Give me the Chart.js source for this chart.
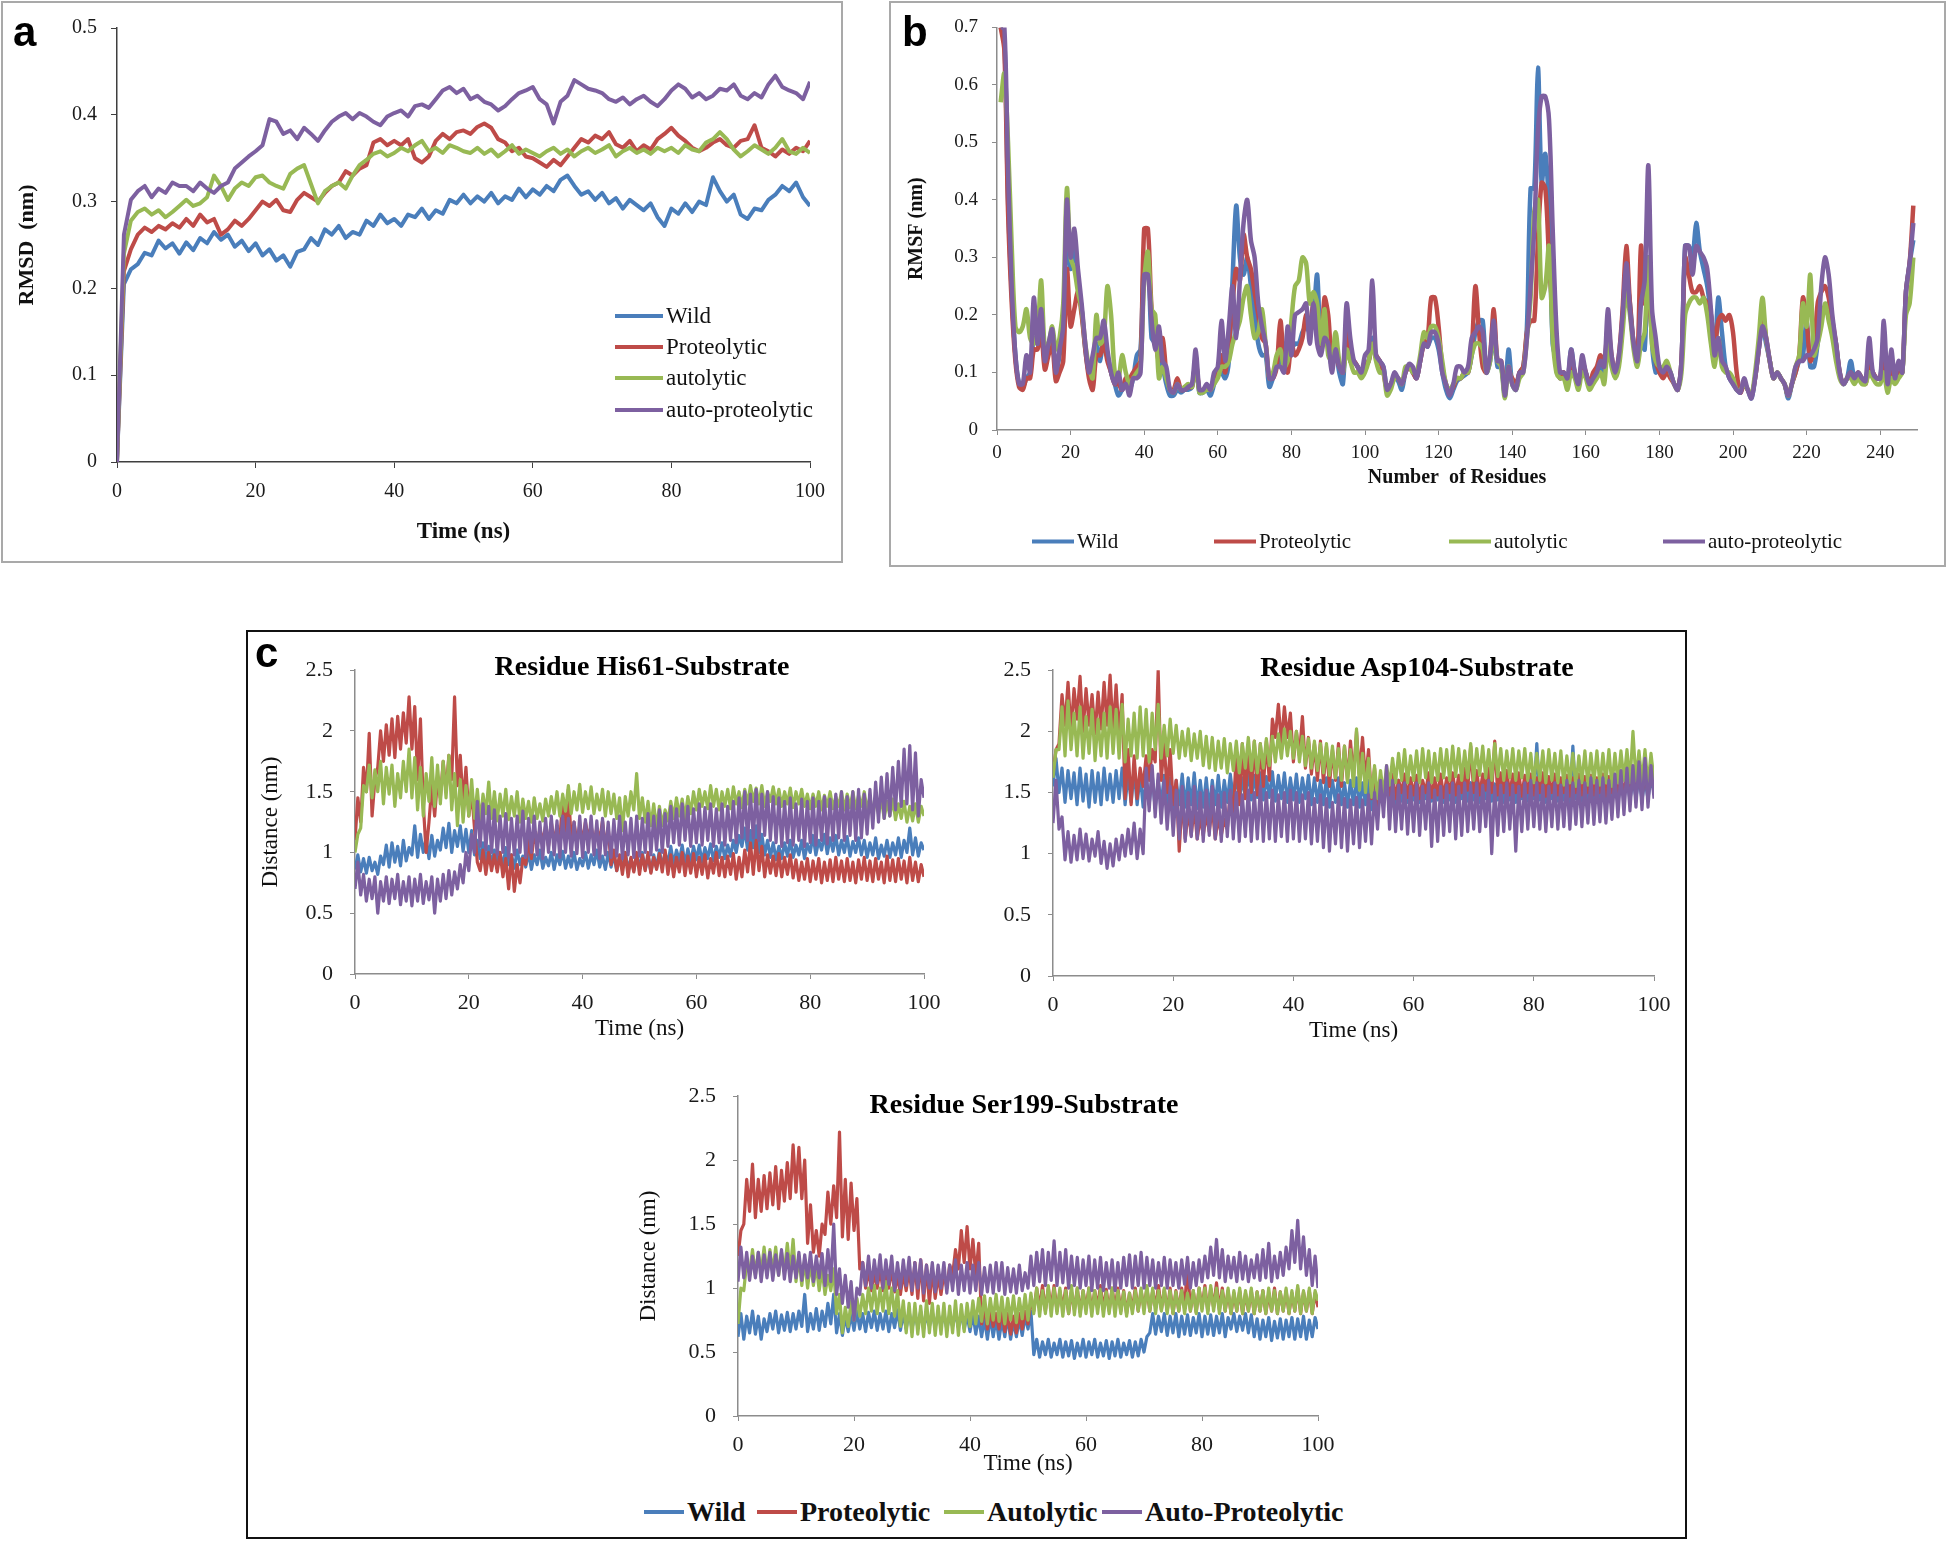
<!DOCTYPE html>
<html>
<head>
<meta charset="utf-8">
<script src="https://cdn.jsdelivr.net/npm/chart.js@4.4.1/dist/chart.umd.min.js"></script>
<style>
  body { margin: 0; width: 1948px; height: 1542px; background: #fff; position: relative; overflow: hidden; font-family: "Liberation Serif", "Times New Roman", serif; color: #111; }
  .frame { position: absolute; box-sizing: border-box; }
  canvas { position: absolute; }
  .letter { position: absolute; font-family: "Liberation Sans", Arial, sans-serif; font-weight: bold; font-size: 42px; line-height: 1; color: #000; }
  .title { position: absolute; transform: translate(-50%, -50%); font-weight: bold; font-size: 28px; white-space: nowrap; line-height: 1; color: #000; }
  .legend-item { position: absolute; transform: translateY(-50%); display: flex; align-items: center; white-space: nowrap; line-height: 1; color: #111; }
  .swatch { display: inline-block; height: 4px; margin-right: 3px; }
</style>
</head>
<body>
<div class="frame" style="left:1px;top:1px;width:842px;height:562px;border:2px solid #a9a9a9"></div>
<div class="frame" style="left:889px;top:1px;width:1057px;height:566px;border:2px solid #a9a9a9"></div>
<div class="frame" style="left:246px;top:630px;width:1441px;height:909px;border:2px solid #111"></div>

<canvas id="rmsdChart" width="838" height="558" style="left:2px;top:2px"></canvas>
<canvas id="rmsfChart" width="1052" height="560" style="left:891px;top:2px"></canvas>
<canvas id="his61Chart" width="714" height="420" style="left:250px;top:640px"></canvas>
<canvas id="asp104Chart" width="704" height="420" style="left:980px;top:640px"></canvas>
<canvas id="ser199Chart" width="728" height="424" style="left:630px;top:1066px"></canvas>

<div class="letter" style="left:13px;top:11px">a</div>
<div class="letter" style="left:902px;top:11px">b</div>
<div class="letter" style="left:255px;top:632px">c</div>

<div class="title" style="left:642px;top:666px">Residue His61-Substrate</div>
<div class="title" style="left:1417px;top:667px">Residue Asp104-Substrate</div>
<div class="title" style="left:1024px;top:1104px">Residue Ser199-Substrate</div>

<div id="legendA"></div>
<div id="legendB"></div>
<div id="legendC"></div>

<script>
// Series names and colours (Excel 2010 palette)
const seriesNames = ["Wild", "Proteolytic", "autolytic", "auto-proteolytic"];
const seriesNamesC = ["Wild", "Proteolytic", "Autolytic", "Auto-Proteolytic"];
const seriesColors = ["#4a7ebb", "#be4b48", "#98b954", "#7d60a0"];

// x grids
const timeA = [...Array(101).keys()];                 // 0..100 ns, 1 ns step
const residues = [...Array(249).keys()].map((i) => i + 1); // residue 1..249
const timeC = [...Array(201).keys()].map((i) => i / 2);    // 0..100 ns, 0.5 ns step

// tick labels
const rmsdTicks = [0, 0.1, 0.2, 0.3, 0.4, 0.5];
const rmsfTicks = [0, 0.1, 0.2, 0.3, 0.4, 0.5, 0.6, 0.7];
const residueTicks = [0, 20, 40, 60, 80, 100, 120, 140, 160, 180, 200, 220, 240];
const timeTicks = [0, 20, 40, 60, 80, 100];
const distTicks = [0, 0.5, 1, 1.5, 2, 2.5];

// Panel a: RMSD (nm) vs time
const rmsdWild = [
  0, .205, .222, .228, .241, .238, .255, .246, .252, .24,
  .253, .244, .258, .252, .265, .256, .262, .248, .255, .243,
  .252, .238, .245, .232, .238, .225, .242, .245, .258, .25,
  .268, .262, .272, .258, .265, .262, .278, .272, .285, .275,
  .28, .272, .285, .282, .292, .28, .29, .286, .302, .298,
  .308, .298, .306, .3, .31, .298, .306, .302, .315, .305,
  .314, .308, .318, .312, .325, .33, .318, .308, .312, .302,
  .31, .298, .304, .292, .302, .296, .29, .298, .282, .272,
  .292, .286, .298, .288, .3, .296, .328, .312, .3, .308,
  .285, .28, .292, .29, .302, .308, .318, .312, .322, .305,
  .295];
const rmsdProteolytic = [
  0, .22, .245, .262, .27, .265, .272, .268, .275, .27,
  .28, .272, .285, .276, .28, .262, .268, .278, .272, .28,
  .29, .3, .295, .302, .29, .288, .302, .31, .305, .3,
  .31, .318, .322, .335, .33, .338, .342, .368, .372, .365,
  .37, .365, .372, .35, .345, .352, .37, .378, .372, .38,
  .382, .378, .386, .39, .385, .372, .368, .358, .362, .352,
  .35, .345, .34, .348, .342, .352, .362, .372, .368, .376,
  .372, .38, .366, .362, .37, .358, .365, .36, .372, .378,
  .385, .376, .37, .362, .358, .362, .368, .372, .365, .362,
  .37, .372, .388, .362, .358, .352, .36, .355, .362, .358,
  .37];
const rmsdAutolytic = [
  0, .24, .278, .288, .292, .285, .29, .282, .288, .295,
  .302, .295, .298, .305, .33, .318, .302, .315, .322, .318,
  .328, .33, .322, .318, .315, .332, .338, .342, .32, .298,
  .312, .318, .322, .315, .33, .342, .348, .355, .358, .352,
  .356, .362, .358, .365, .37, .358, .362, .356, .365, .362,
  .358, .356, .362, .355, .36, .352, .358, .365, .355, .36,
  .356, .352, .358, .362, .355, .36, .352, .358, .362, .356,
  .36, .365, .352, .358, .362, .356, .36, .355, .362, .358,
  .362, .356, .365, .36, .358, .368, .372, .38, .372, .36,
  .352, .358, .365, .36, .355, .362, .372, .358, .355, .362,
  .356];
const rmsdAutoProteolytic = [
  0, .262, .302, .312, .318, .305, .315, .31, .322, .318,
  .318, .312, .322, .315, .31, .318, .322, .338, .345, .352,
  .358, .365, .395, .392, .378, .382, .372, .385, .378, .37,
  .382, .392, .398, .402, .395, .402, .398, .392, .388, .398,
  .402, .405, .398, .41, .412, .408, .418, .428, .432, .425,
  .43, .418, .422, .415, .412, .405, .41, .418, .425, .428,
  .432, .418, .412, .39, .415, .422, .44, .435, .43, .428,
  .425, .418, .415, .42, .412, .418, .422, .415, .41, .418,
  .428, .435, .43, .42, .425, .418, .422, .43, .428, .435,
  .422, .418, .425, .42, .435, .445, .432, .428, .425, .418,
  .438];

// Panel b: RMSF (nm) per residue
const rmsfWild = [
  .70, .68, .40, .24, .13, .08, .075, .09, .10, .16,
  .15, .19, .12, .15, .16, .10, .13, .17, .35, .28,
  .32, .26, .21, .14, .10, .11, .15, .12, .16, .13,
  .10, .08, .06, .07, .08, .07, .09, .13, .14, .30,
  .30, .16, .15, .13, .11, .08, .06, .06, .07, .065,
  .07, .07, .075, .12, .065, .065, .07, .06, .08, .10,
  .10, .09, .12, .26, .39, .30, .27, .30, .25, .20,
  .15, .13, .13, .075, .09, .11, .12, .15, .12, .14,
  .15, .15, .17, .18, .17, .20, .27, .14, .20, .15,
  .11, .14, .10, .08, .19, .12, .12, .11, .10, .11,
  .12, .16, .13, .12, .11, .07, .08, .09, .085, .07,
  .10, .11, .10, .09, .12, .15, .145, .16, .16, .14,
  .10, .07, .055, .07, .085, .09, .095, .10, .13, .17,
  .19, .19, .10, .12, .17, .11, .11, .06, .14, .08,
  .07, .10, .11, .18, .42, .42, .63, .43, .48, .38,
  .15, .12, .09, .10, .08, .14, .10, .08, .11, .10,
  .08, .09, .10, .11, .10, .18, .12, .10, .12, .19,
  .26, .22, .15, .12, .16, .14, .30, .15, .10, .11,
  .10, .11, .10, .08, .07, .12, .32, .32, .30, .36,
  .31, .28, .25, .20, .13, .23, .17, .11, .09, .08,
  .07, .065, .08, .07, .055, .09, .14, .18, .15, .12,
  .09, .10, .09, .08, .055, .08, .10, .12, .13, .19,
  .11, .11, .15, .20, .21, .22, .18, .15, .10, .08,
  .09, .12, .09, .10, .09, .085, .12, .10, .09, .09,
  .16, .08, .12, .09, .10, .10, .24, .29, .33];
const rmsfProteolytic = [
  .70, .66, .38, .22, .12, .075, .07, .09, .09, .14,
  .14, .17, .105, .13, .15, .085, .10, .12, .28, .18,
  .21, .24, .20, .14, .09, .07, .13, .13, .15, .12,
  .10, .08, .08, .07, .09, .09, .10, .11, .12, .35,
  .35, .21, .16, .12, .16, .10, .07, .07, .09, .07,
  .07, .075, .075, .12, .07, .07, .075, .07, .09, .10,
  .13, .10, .15, .22, .28, .26, .34, .30, .28, .24,
  .20, .16, .15, .09, .09, .11, .19, .12, .10, .15,
  .13, .14, .16, .20, .18, .22, .17, .14, .23, .20,
  .12, .13, .11, .10, .17, .12, .12, .11, .10, .11,
  .12, .15, .13, .12, .10, .07, .08, .09, .09, .08,
  .10, .11, .10, .09, .12, .15, .16, .23, .23, .18,
  .11, .08, .065, .075, .09, .09, .10, .10, .14, .25,
  .17, .11, .10, .13, .21, .12, .12, .07, .10, .09,
  .08, .10, .11, .17, .19, .19, .33, .43, .42, .30,
  .20, .12, .09, .10, .08, .12, .10, .08, .12, .10,
  .08, .10, .11, .13, .11, .18, .13, .10, .13, .21,
  .32, .22, .15, .12, .32, .22, .25, .16, .12, .10,
  .09, .10, .09, .08, .07, .12, .30, .27, .24, .24,
  .25, .23, .22, .20, .14, .19, .20, .19, .20, .17,
  .10, .065, .08, .07, .06, .09, .14, .20, .16, .12,
  .09, .10, .09, .08, .06, .08, .10, .13, .23, .19,
  .12, .14, .22, .24, .25, .23, .19, .15, .10, .08,
  .09, .10, .09, .10, .09, .08, .11, .10, .09, .09,
  .14, .08, .11, .09, .10, .10, .24, .29, .39];
const rmsfAutolytic = [
  .57, .62, .50, .32, .18, .17, .18, .21, .16, .15,
  .17, .26, .14, .15, .18, .14, .16, .22, .42, .30,
  .28, .24, .21, .15, .11, .09, .20, .15, .16, .25,
  .20, .10, .09, .13, .10, .08, .09, .10, .11, .26,
  .31, .21, .20, .09, .11, .09, .07, .065, .08, .07,
  .075, .08, .075, .12, .065, .065, .07, .07, .08, .09,
  .11, .11, .12, .15, .17, .19, .23, .25, .20, .16,
  .17, .21, .15, .09, .10, .13, .14, .11, .12, .19,
  .25, .26, .30, .29, .22, .24, .22, .15, .21, .13,
  .12, .17, .12, .10, .14, .12, .10, .10, .09, .10,
  .12, .15, .12, .10, .10, .06, .07, .09, .09, .08,
  .11, .11, .10, .10, .13, .17, .16, .18, .18, .16,
  .12, .08, .07, .08, .09, .09, .10, .10, .13, .15,
  .15, .14, .10, .12, .17, .12, .11, .055, .11, .08,
  .07, .09, .10, .16, .23, .38, .40, .23, .25, .32,
  .16, .10, .09, .09, .07, .10, .09, .07, .10, .09,
  .07, .08, .09, .10, .08, .15, .11, .09, .11, .17,
  .24, .20, .14, .11, .15, .17, .30, .15, .12, .11,
  .11, .12, .10, .08, .07, .10, .20, .22, .23, .23,
  .22, .23, .20, .15, .11, .16, .11, .10, .10, .09,
  .07, .07, .08, .07, .06, .10, .16, .23, .16, .12,
  .09, .10, .09, .08, .06, .08, .11, .13, .22, .18,
  .27, .13, .15, .18, .22, .19, .16, .12, .09, .08,
  .09, .09, .08, .09, .08, .08, .10, .09, .08, .08,
  .10, .065, .09, .08, .09, .10, .20, .22, .30];
const rmsfAutoProteolytic = [
  .70, .70, .45, .25, .13, .08, .08, .13, .10, .23,
  .15, .21, .12, .15, .175, .10, .14, .18, .40, .30,
  .35, .28, .22, .15, .10, .13, .16, .16, .19, .14,
  .10, .08, .10, .07, .08, .06, .09, .09, .10, .27,
  .27, .19, .14, .18, .12, .11, .07, .065, .08, .07,
  .07, .075, .08, .14, .07, .07, .08, .07, .10, .11,
  .19, .12, .18, .25, .16, .26, .36, .40, .33, .30,
  .22, .18, .15, .09, .09, .11, .11, .10, .18, .13,
  .20, .205, .21, .22, .15, .22, .15, .13, .16, .15,
  .10, .14, .11, .10, .22, .16, .12, .11, .10, .13,
  .14, .26, .13, .12, .11, .07, .08, .10, .09, .08,
  .10, .115, .11, .09, .12, .15, .145, .17, .17, .15,
  .10, .08, .06, .08, .11, .11, .10, .11, .16, .17,
  .18, .17, .10, .13, .19, .12, .12, .06, .11, .08,
  .07, .10, .10, .16, .25, .35, .52, .58, .58, .54,
  .35, .18, .10, .10, .09, .14, .10, .08, .13, .10,
  .08, .09, .10, .12, .11, .21, .13, .10, .13, .20,
  .29, .21, .15, .12, .22, .26, .46, .21, .16, .11,
  .10, .11, .10, .08, .07, .12, .32, .32, .27, .32,
  .31, .30, .28, .21, .13, .16, .12, .11, .09, .08,
  .07, .065, .09, .07, .055, .09, .14, .18, .16, .12,
  .09, .10, .09, .08, .06, .08, .11, .12, .12, .13,
  .13, .14, .16, .25, .30, .27, .20, .15, .10, .08,
  .09, .10, .09, .10, .09, .085, .16, .10, .09, .09,
  .19, .08, .14, .09, .12, .10, .24, .29, .36];

// Panel c: distance (nm), residue His61 - substrate
const his61Wild = [
  .86, .98, .84, .95, .83, .96, .85, .92, .82, .97,
  .9, 1.06, .88, 1.08, .92, 1.05, .89, 1.1, .93, 1.04,
  .98, 1.22, .96, 1.15, 1.0, 1.12, .95, 1.14, .97, 1.1,
  1.02, 1.2, 1.04, 1.24, 1.0, 1.18, 1.05, 1.22, 1.01, 1.19,
  1.0, 1.18, .98, 1.1, .95, 1.08, .92, 1.05, .9, 1.02,
  .92, 1.0, .88, 1.04, .9, .98, .87, 1.02, .9, .97,
  .88, 1.0, .86, .98, .9, 1.02, .87, .96, .89, 1.0,
  .86, .98, .9, 1.01, .87, .97, .88, 1.0, .86, .95,
  .89, 1.0, .87, .98, .9, 1.02, .88, .97, .86, 1.0,
  .88, .98, .85, .96, .87, 1.0, .86, .95, .85, .98,
  .87, 1.0, .86, .97, .84, .98, .87, 1.02, .88, .99,
  .92, 1.05, .9, 1.02, .93, 1.06, .9, 1.03, .92, 1.05,
  .94, 1.06, .92, 1.04, .95, 1.07, .93, 1.05, .96, 1.08,
  .95, 1.06, .97, 1.1, 1.0, 1.14, 1.05, 1.2, 1.02, 1.18,
  1.04, 1.22, 1.0, 1.15, .98, 1.1, .96, 1.08, .94, 1.05,
  .95, 1.08, .97, 1.1, .96, 1.06, .98, 1.1, .95, 1.07,
  1.0, 1.14, .98, 1.1, 1.02, 1.15, .99, 1.12, 1.01, 1.14,
  .98, 1.1, 1.0, 1.13, .97, 1.09, 1.0, 1.12, .98, 1.1,
  .96, 1.08, .98, 1.12, .95, 1.06, .97, 1.1, .96, 1.08,
  .98, 1.12, .96, 1.1, 1.0, 1.2, .98, 1.12, .97, 1.08,
  1.02];
const his61Proteolytic = [
  1.1, 1.45, 1.25, 1.7, 1.5, 1.98, 1.3, 1.6, 1.7, 2.0,
  1.75, 2.05, 1.8, 2.1, 1.78, 2.12, 1.85, 2.15, 1.9, 2.28,
  1.85, 2.2, 1.6, 2.1, 1.4, 1.0, 1.25, 1.55, 1.3, 1.6,
  1.45, 1.75, 1.5, 1.8, 1.6, 2.28, 1.55, 1.8, 1.4, 1.7,
  1.3, 1.5, 1.2, .92, .85, 1.02, .82, 1.0, .85, .98,
  .84, 1.0, .8, .95, .7, .98, .68, .9, .75, .95,
  .9, 1.1, .95, 1.15, 1.05, 1.2, 1.08, 1.22, 1.05, 1.25,
  1.08, 1.22, 1.1, 1.45, 1.12, 1.52, 1.1, 1.25, 1.08, 1.22,
  1.1, 1.25, 1.12, 1.22, 1.08, 1.2, 1.1, 1.26, 1.05, 1.2,
  .9, 1.02, .85, .98, .82, 1.0, .8, .96, .84, 1.0,
  .82, .98, .85, 1.0, .83, .96, .86, .99, .84, 1.02,
  .82, .98, .8, .96, .84, 1.0, .81, .97, .83, .99,
  .8, .96, .82, .98, .79, .95, .83, 1.0, .81, .96,
  .8, .97, .82, .99, .78, .96, .8, 1.02, .84, 1.08,
  .82, 1.1, .85, 1.05, .8, .98, .83, .97, .81, .99,
  .8, .96, .82, .98, .79, .94, .77, .92, .78, .95,
  .76, .93, .78, .95, .75, .92, .77, .94, .76, .96,
  .78, .93, .76, .95, .77, .92, .75, .94, .78, .96,
  .77, .93, .76, .95, .78, .92, .75, .97, .77, .94,
  .76, .95, .78, .93, .75, .96, .77, .92, .76, .9,
  .8];
const his61Autolytic = [
  1.0, 1.15, 1.2, 1.55, 1.5, 1.72, 1.45, 1.68, 1.5, 1.75,
  1.4, 1.7, 1.48, 1.72, 1.38, 1.65, 1.45, 1.75, 1.5, 1.85,
  1.45, 1.78, 1.35, 1.7, 1.3, 1.65, 1.42, 1.78, 1.38, 1.72,
  1.4, 1.75, 1.45, 1.8, 1.35, 1.65, 1.22, 1.6, 1.25, 1.55,
  1.3, 1.6, 1.28, 1.52, 1.25, 1.48, 1.32, 1.58, 1.28, 1.5,
  1.26, 1.48, 1.3, 1.52, 1.27, 1.46, 1.3, 1.5, 1.25, 1.44,
  1.28, 1.42, 1.25, 1.45, 1.28, 1.4, 1.26, 1.44, 1.3, 1.46,
  1.32, 1.5, 1.3, 1.48, 1.34, 1.55, 1.32, 1.5, 1.35, 1.56,
  1.33, 1.5, 1.36, 1.54, 1.32, 1.48, 1.35, 1.52, 1.3, 1.5,
  1.32, 1.48, 1.28, 1.45, 1.18, 1.46, 1.3, 1.5, 1.35, 1.65,
  1.28, 1.45, 1.25, 1.42, 1.22, 1.4, 1.2, 1.38, 1.22, 1.35,
  1.26, 1.42, 1.28, 1.45, 1.3, 1.44, 1.28, 1.46, 1.32, 1.5,
  1.35, 1.52, 1.38, 1.5, 1.36, 1.55, 1.38, 1.52, 1.35, 1.5,
  1.38, 1.52, 1.36, 1.54, 1.4, 1.5, 1.37, 1.52, 1.4, 1.55,
  1.42, 1.53, 1.4, 1.55, 1.38, 1.5, 1.42, 1.54, 1.4, 1.52,
  1.38, 1.5, 1.4, 1.53, 1.37, 1.5, 1.4, 1.52, 1.38, 1.48,
  1.36, 1.48, 1.38, 1.5, 1.35, 1.47, 1.38, 1.5, 1.36, 1.46,
  1.38, 1.5, 1.35, 1.48, 1.37, 1.5, 1.36, 1.47, 1.38, 1.5,
  1.35, 1.46, 1.3, 1.45, 1.32, 1.44, 1.28, 1.42, 1.3, 1.44,
  1.27, 1.4, 1.28, 1.42, 1.25, 1.38, 1.26, 1.4, 1.25, 1.38,
  1.3];
const his61AutoProteolytic = [
  .7, .92, .65, .82, .6, .78, .62, .8, .5, .76,
  .6, .8, .58, .78, .62, .82, .57, .76, .6, .8,
  .56, .78, .6, .82, .58, .76, .61, .8, .5, .78,
  .6, .82, .62, .85, .65, .84, .7, .9, .75, 1.0,
  .85, 1.15, 1.0, 1.42, 1.05, 1.4, 1.02, 1.38, 1.0, 1.35,
  .98, 1.3, 1.0, 1.32, .96, 1.28, .98, 1.3, 1.0, 1.34,
  .96, 1.28, 1.0, 1.3, .98, 1.25, .95, 1.28, 1.0, 1.3,
  .98, 1.26, .96, 1.3, 1.0, 1.28, .97, 1.25, .99, 1.3,
  .96, 1.27, 1.0, 1.3, .98, 1.26, .95, 1.28, .98, 1.25,
  .96, 1.27, .97, 1.3, .95, 1.25, .98, 1.28, .96, 1.3,
  .97, 1.28, 1.0, 1.32, .98, 1.3, 1.02, 1.35, 1.0, 1.32,
  1.05, 1.38, 1.08, 1.36, 1.06, 1.4, 1.1, 1.38, 1.05, 1.36,
  1.08, 1.4, 1.06, 1.37, 1.1, 1.4, 1.05, 1.36, 1.08, 1.4,
  1.06, 1.38, 1.1, 1.42, 1.08, 1.45, 1.12, 1.5, 1.1, 1.48,
  1.12, 1.52, 1.1, 1.48, 1.14, 1.5, 1.1, 1.46, 1.08, 1.45,
  1.05, 1.42, 1.08, 1.45, 1.06, 1.4, 1.1, 1.44, 1.05, 1.42,
  1.08, 1.45, 1.06, 1.42, 1.1, 1.46, 1.07, 1.44, 1.1, 1.48,
  1.12, 1.5, 1.1, 1.46, 1.14, 1.5, 1.1, 1.52, 1.12, 1.48,
  1.15, 1.52, 1.2, 1.58, 1.25, 1.62, 1.28, 1.65, 1.3, 1.7,
  1.35, 1.75, 1.38, 1.85, 1.4, 1.88, 1.35, 1.82, 1.3, 1.6,
  1.45];

// Panel c: residue Asp104 - substrate
const asp104Wild = [
  1.55, 1.78, 1.5, 1.7, 1.42, 1.68, 1.45, 1.66, 1.4, 1.7,
  1.43, 1.65, 1.38, 1.68, 1.42, 1.66, 1.4, 1.7, 1.44, 1.65,
  1.42, 1.68, 1.45, 1.7, 1.4, 1.66, 1.42, 1.68, 1.4, 1.65,
  1.38, 1.62, 1.4, 1.65, 1.37, 1.6, 1.4, 1.64, 1.38, 1.62,
  1.36, 1.6, 1.4, 1.65, 1.38, 1.62, 1.4, 1.66, 1.37, 1.6,
  1.38, 1.62, 1.36, 1.6, 1.4, 1.64, 1.38, 1.6, 1.42, 1.65,
  1.45, 1.65, 1.42, 1.62, 1.46, 1.68, 1.44, 1.64, 1.46, 1.66,
  1.44, 1.63, 1.46, 1.67, 1.43, 1.64, 1.45, 1.66, 1.42, 1.62,
  1.44, 1.65, 1.42, 1.62, 1.45, 1.64, 1.4, 1.62, 1.42, 1.6,
  1.4, 1.62, 1.38, 1.6, 1.42, 1.62, 1.4, 1.58, 1.38, 1.6,
  1.4, 1.62, 1.38, 1.58, 1.4, 1.6, 1.36, 1.56, 1.42, 1.6,
  1.42, 1.6, 1.44, 1.58, 1.4, 1.6, 1.43, 1.58, 1.42, 1.6,
  1.44, 1.6, 1.42, 1.58, 1.45, 1.6, 1.43, 1.57, 1.44, 1.6,
  1.42, 1.58, 1.44, 1.6, 1.42, 1.58, 1.45, 1.6, 1.43, 1.58,
  1.44, 1.6, 1.42, 1.58, 1.45, 1.6, 1.43, 1.57, 1.44, 1.6,
  1.42, 1.58, 1.44, 1.6, 1.42, 1.58, 1.45, 1.6, 1.43, 1.62,
  1.45, 1.9, 1.44, 1.6, 1.42, 1.58, 1.45, 1.6, 1.43, 1.58,
  1.44, 1.6, 1.42, 1.88, 1.45, 1.6, 1.43, 1.58, 1.44, 1.6,
  1.42, 1.58, 1.45, 1.6, 1.43, 1.58, 1.44, 1.6, 1.42, 1.6,
  1.45, 1.62, 1.44, 1.6, 1.46, 1.62, 1.44, 1.6, 1.45, 1.62,
  1.5];
const asp104Proteolytic = [
  1.65, 1.85, 1.9, 2.3, 2.05, 2.4, 2.0, 2.35, 2.1, 2.45,
  2.0, 2.35, 2.05, 2.3, 1.98, 2.32, 2.02, 2.4, 2.05, 2.46,
  2.0, 2.38, 1.95, 2.3, 1.45, 1.85, 1.4, 1.8, 1.45, 1.7,
  1.55, 1.8, 1.6, 1.85, 1.75, 2.5, 1.6, 1.9, 1.5, 1.85,
  1.4, 1.6, 1.02, 1.45, 1.12, 1.35, 1.15, 1.38, 1.12, 1.3,
  1.15, 1.32, 1.18, 1.38, 1.12, 1.3, 1.15, 1.28, 1.2, 1.5,
  1.3, 1.85, 1.4, 1.9, 1.45, 1.88, 1.5, 1.92, 1.48, 1.9,
  1.55, 1.92, 1.6, 2.1, 1.95, 2.22, 1.9, 2.2, 1.95, 2.15,
  1.75, 2.0, 1.8, 2.12, 1.7, 1.95, 1.65, 1.9, 1.6, 1.92,
  1.58, 1.88, 1.55, 1.85, 1.6, 1.9, 1.55, 1.88, 1.6, 1.92,
  1.62, 2.0, 1.65, 1.95, 1.6, 1.85, 1.45, 1.7, 1.38, 1.6,
  1.45, 1.62, 1.48, 1.65, 1.45, 1.6, 1.5, 1.65, 1.46, 1.62,
  1.48, 1.64, 1.45, 1.6, 1.5, 1.66, 1.46, 1.62, 1.48, 1.65,
  1.46, 1.62, 1.5, 1.66, 1.48, 1.64, 1.5, 1.7, 1.52, 1.88,
  1.5, 1.68, 1.48, 1.65, 1.52, 1.7, 1.5, 1.92, 1.48, 1.66,
  1.5, 1.68, 1.48, 1.65, 1.5, 1.66, 1.47, 1.64, 1.5, 1.65,
  1.48, 1.62, 1.5, 1.66, 1.47, 1.63, 1.5, 1.65, 1.48, 1.62,
  1.5, 1.64, 1.47, 1.62, 1.5, 1.65, 1.48, 1.63, 1.5, 1.64,
  1.48, 1.62, 1.5, 1.65, 1.47, 1.63, 1.5, 1.64, 1.48, 1.62,
  1.5, 1.65, 1.48, 1.63, 1.5, 1.66, 1.48, 1.64, 1.5, 1.65,
  1.55];
const asp104Autolytic = [
  1.62, 1.85, 1.85, 2.2, 1.8, 2.25, 1.85, 2.15, 1.8, 2.2,
  1.78, 2.12, 1.82, 2.18, 1.76, 2.1, 1.8, 2.15, 1.78, 2.2,
  1.82, 2.18, 1.78, 2.22, 1.75, 2.1, 1.8, 2.15, 1.78, 2.2,
  1.8, 2.18, 1.75, 2.15, 1.85, 2.22, 1.78, 2.05, 1.8, 2.1,
  1.82, 2.05, 1.78, 2.0, 1.8, 2.02, 1.76, 1.98, 1.78, 2.0,
  1.72, 1.96, 1.7, 1.95, 1.68, 1.92, 1.7, 1.94, 1.66, 1.9,
  1.68, 1.92, 1.66, 1.9, 1.7, 1.95, 1.68, 1.92, 1.66, 1.9,
  1.7, 1.94, 1.72, 1.96, 1.75, 1.98, 1.78, 2.02, 1.8, 2.0,
  1.78, 2.0, 1.75, 1.96, 1.72, 1.94, 1.7, 1.92, 1.68, 1.9,
  1.66, 1.9, 1.64, 1.88, 1.62, 1.86, 1.6, 1.88, 1.58, 1.85,
  1.55, 2.02, 1.52, 1.82, 1.5, 1.78, 1.46, 1.72, 1.45, 1.68,
  1.48, 1.72, 1.56, 1.78, 1.58, 1.82, 1.6, 1.85, 1.58, 1.8,
  1.6, 1.84, 1.58, 1.86, 1.62, 1.84, 1.58, 1.82, 1.6, 1.86,
  1.62, 1.85, 1.6, 1.88, 1.63, 1.86, 1.6, 1.84, 1.62, 1.9,
  1.6, 1.86, 1.64, 1.88, 1.62, 1.85, 1.6, 1.9, 1.63, 1.86,
  1.6, 1.84, 1.62, 1.86, 1.6, 1.84, 1.62, 1.86, 1.6, 1.82,
  1.58, 1.82, 1.6, 1.84, 1.58, 1.85, 1.6, 1.82, 1.58, 1.84,
  1.56, 1.8, 1.58, 1.82, 1.55, 1.8, 1.58, 1.84, 1.56, 1.82,
  1.58, 1.84, 1.56, 1.82, 1.58, 1.85, 1.55, 1.82, 1.58, 1.84,
  1.6, 1.85, 1.58, 2.0, 1.6, 1.84, 1.58, 1.85, 1.56, 1.82,
  1.6];
const asp104AutoProteolytic = [
  1.25, 1.6, 1.2, 1.3, .95, 1.18, .93, 1.15, .95, 1.2,
  .96, 1.16, .94, 1.12, .98, 1.18, .92, 1.1, .88, 1.08,
  .9, 1.12, .95, 1.15, .98, 1.2, 1.0, 1.25, .96, 1.2,
  1.0, 1.7, 1.35, 1.72, 1.3, 1.65, 1.25, 1.6, 1.2, 1.55,
  1.15, 1.52, 1.12, 1.55, 1.1, 1.5, 1.14, 1.55, 1.12, 1.5,
  1.1, 1.52, 1.15, 1.55, 1.12, 1.48, 1.1, 1.5, 1.14, 1.52,
  1.12, 1.5, 1.1, 1.48, 1.14, 1.52, 1.1, 1.5, 1.12, 1.55,
  1.1, 1.5, 1.12, 1.52, 1.1, 1.48, 1.14, 1.5, 1.1, 1.52,
  1.12, 1.5, 1.1, 1.48, 1.12, 1.5, 1.08, 1.45, 1.1, 1.48,
  1.05, 1.45, 1.02, 1.42, 1.08, 1.48, 1.05, 1.45, 1.02, 1.44,
  1.08, 1.46, 1.05, 1.44, 1.1, 1.48, 1.08, 1.5, 1.2, 1.6,
  1.3, 1.72, 1.2, 1.6, 1.18, 1.56, 1.2, 1.58, 1.16, 1.55,
  1.18, 1.58, 1.15, 1.55, 1.2, 1.58, 1.06, 1.52, 1.1, 1.55,
  1.15, 1.56, 1.18, 1.58, 1.12, 1.55, 1.15, 1.58, 1.18, 1.56,
  1.2, 1.58, 1.18, 1.56, 1.22, 1.6, 1.0, 1.55, 1.15, 1.56,
  1.18, 1.58, 1.2, 1.56, 1.02, 1.55, 1.18, 1.58, 1.2, 1.6,
  1.22, 1.58, 1.2, 1.56, 1.18, 1.55, 1.22, 1.58, 1.2, 1.56,
  1.22, 1.6, 1.2, 1.58, 1.24, 1.6, 1.22, 1.58, 1.25, 1.62,
  1.24, 1.6, 1.26, 1.62, 1.25, 1.6, 1.28, 1.65, 1.3, 1.68,
  1.32, 1.7, 1.35, 1.72, 1.38, 1.75, 1.36, 1.78, 1.38, 1.72,
  1.45];

// Panel c: residue Ser199 - substrate
const ser199Wild = [
  .62, .8, .6, .78, .65, .82, .64, .78, .6, .76,
  .66, .8, .68, .82, .65, .79, .67, .81, .66, .8,
  .68, .82, .7, .95, .66, .8, .68, .84, .67, .82,
  .7, .88, .72, .95, .65, .8, .63, .78, .66, .8,
  .67, .82, .68, .8, .66, .81, .69, .82, .67, .8,
  .68, .82, .66, .8, .69, .83, .67, .8, .68, .82,
  .68, .8, .7, .82, .68, .79, .7, .81, .69, .8,
  .7, .8, .68, .79, .7, .81, .69, .8, .68, .79,
  .66, .8, .64, .78, .62, .76, .6, .78, .62, .76,
  .6, .75, .62, .78, .6, .74, .62, .76, .63, .78,
  .68, .82, .48, .6, .46, .58, .48, .6, .46, .57,
  .48, .6, .46, .58, .47, .59, .45, .57, .47, .6,
  .46, .58, .48, .6, .46, .57, .47, .59, .45, .58,
  .47, .6, .46, .57, .48, .59, .46, .58, .47, .6,
  .5, .62, .65, .8, .64, .78, .66, .8, .63, .78,
  .65, .8, .62, .78, .64, .79, .63, .77, .65, .8,
  .62, .78, .64, .79, .63, .78, .65, .8, .62, .77,
  .68, .8, .66, .78, .67, .8, .65, .79, .62, .76,
  .6, .75, .62, .77, .59, .74, .61, .76, .6, .75,
  .62, .77, .6, .76, .62, .78, .6, .75, .62, .77,
  .68];
const ser199Proteolytic = [
  1.25, 1.45, 1.5, 1.85, 1.6, 1.97, 1.55, 1.85, 1.6, 1.88,
  1.62, 1.9, 1.65, 1.95, 1.62, 1.92, 1.68, 1.98, 1.7, 2.12,
  1.75, 2.1, 1.7, 2.0, 1.35, 1.65, 1.28, 1.45, 1.25, 1.5,
  1.42, 1.75, 1.5, 1.8, 1.55, 2.22, 1.4, 1.85, 1.38, 1.82,
  1.45, 1.7, 1.15, 1.2, 1.0, 1.15, .98, 1.12, 1.0, 1.15,
  .98, 1.12, 1.0, 1.15, .97, 1.1, .95, 1.12, .98, 1.15,
  .95, 1.2, .92, 1.22, .9, 1.18, .88, 1.15, .92, 1.1,
  .95, 1.12, 1.0, 1.18, 1.1, 1.3, 1.15, 1.45, 1.2, 1.48,
  1.15, 1.38, 1.1, 1.35, .72, .85, .68, .82, .7, .8,
  .68, .82, .66, .8, .64, .78, .65, .8, .68, .82,
  .72, .9, .82, 1.0, .84, 1.02, .82, 1.0, .85, 1.02,
  .82, .98, .84, 1.0, .8, .97, .83, 1.0, .81, .98,
  .84, 1.0, .82, .98, .85, 1.02, .83, .99, .82, 1.0,
  .84, 1.0, .82, .98, .8, .96, .83, 1.0, .82, .98,
  .84, 1.0, .82, .98, .85, 1.02, .83, .99, .82, 1.0,
  .8, .98, .82, 1.0, .84, 1.2, .82, .98, .81, 1.0,
  .84, 1.02, .82, 1.0, .85, 1.04, .83, 1.0, .82, .98,
  .8, .96, .82, .98, .8, .96, .82, .98, .8, .97,
  .82, .98, .8, .96, .82, 1.0, .8, .97, .82, .98,
  .8, .96, .82, 1.0, .8, .97, .82, .98, .8, .96,
  .85];
const ser199Autolytic = [
  .72, 1.0, .98, 1.2, 1.12, 1.3, 1.1, 1.28, 1.12, 1.32,
  1.1, 1.3, 1.12, 1.32, 1.1, 1.28, 1.13, 1.35, 1.12, 1.38,
  1.05, 1.25, 1.02, 1.22, 1.0, 1.2, 1.02, 1.18, .98, 1.15,
  .95, 1.1, .98, 1.15, .8, .95, .65, .85, .7, .9,
  .75, .92, .78, .95, .8, 1.0, .82, 1.02, .8, 1.0,
  .82, 1.05, .8, 1.0, .78, .98, .7, .9, .65, .88,
  .62, .88, .64, .86, .62, .9, .65, .88, .63, .86,
  .64, .88, .62, .86, .65, .9, .63, .87, .66, .88,
  .7, .9, .72, .92, .74, .94, .72, .92, .75, .95,
  .74, .93, .72, .92, .75, .94, .73, .92, .76, .95,
  .75, .96, .8, 1.0, .78, .98, .8, 1.02, .78, 1.0,
  .8, 1.0, .78, .98, .8, 1.02, .79, 1.0, .78, .98,
  .8, 1.0, .78, .98, .8, .99, .78, .97, .8, 1.0,
  .78, .98, .8, .97, .78, .96, .8, .98, .82, 1.0,
  .8, 1.02, .82, 1.0, .8, .98, .82, 1.0, .8, .98,
  .8, .97, .82, .98, .8, .96, .82, .98, .8, 1.0,
  .82, 1.0, .8, 1.02, .82, 1.0, .8, .98, .82, 1.0,
  .8, .98, .82, 1.0, .8, .98, .82, 1.0, .8, .97,
  .82, .98, .8, 1.0, .82, .98, .8, .97, .82, 1.0,
  .8, .98, .82, 1.02, .8, .98, .82, 1.0, .8, .98,
  .9];
const ser199AutoProteolytic = [
  1.05, 1.32, 1.08, 1.28, 1.06, 1.25, 1.08, 1.28, 1.05, 1.26,
  1.08, 1.28, 1.06, 1.26, 1.1, 1.3, 1.07, 1.27, 1.05, 1.25,
  1.08, 1.28, 1.06, 1.26, 1.08, 1.28, 1.05, 1.25, 1.08, 1.27,
  1.02, 1.3, 1.05, 1.5, .95, 1.15, .88, 1.1, .85, 1.05,
  .75, 1.0, .95, 1.2, 1.02, 1.25, 1.0, 1.22, 1.04, 1.26,
  1.0, 1.22, 1.03, 1.25, .98, 1.2, 1.0, 1.22, 1.02, 1.24,
  .98, 1.2, 1.0, 1.22, .96, 1.18, 1.0, 1.2, .97, 1.18,
  1.0, 1.2, .96, 1.18, .98, 1.22, .95, 1.18, .98, 1.2,
  .96, 1.18, .98, 1.2, .95, 1.16, .97, 1.18, .96, 1.2,
  .98, 1.2, .95, 1.16, .97, 1.15, .96, 1.18, .98, 1.12,
  1.0, 1.25, 1.02, 1.28, 1.05, 1.3, 1.02, 1.28, 1.06, 1.37,
  1.02, 1.28, 1.04, 1.3, 1.0, 1.25, 1.02, 1.24, 1.0, 1.22,
  1.02, 1.25, .98, 1.22, 1.0, 1.24, .98, 1.2, 1.0, 1.22,
  .98, 1.2, 1.0, 1.24, 1.02, 1.26, 1.0, 1.25, 1.02, 1.28,
  1.0, 1.24, 1.02, 1.22, 1.0, 1.2, 1.02, 1.24, 1.0, 1.22,
  1.02, 1.2, 1.0, 1.22, 1.03, 1.24, 1.0, 1.2, 1.02, 1.22,
  1.05, 1.25, 1.08, 1.32, 1.1, 1.38, 1.08, 1.3, 1.05, 1.25,
  1.08, 1.24, 1.05, 1.28, 1.07, 1.25, 1.05, 1.22, 1.08, 1.26,
  1.06, 1.3, 1.08, 1.35, 1.05, 1.25, 1.08, 1.28, 1.1, 1.32,
  1.15, 1.45, 1.2, 1.53, 1.15, 1.4, 1.1, 1.3, 1.02, 1.25,
  1.0];

const SERIF = "'Liberation Serif', 'Times New Roman', serif";

// Initialize on page load
document.addEventListener("DOMContentLoaded", () => {
  initRmsdChart();
  initRmsfChart();
  initDistanceCharts();
  buildLegends();
});

// Turn one value list per series into Chart.js line datasets
function buildDatasets(xs, seriesList, names, width, tension) {
  return seriesList.map((vals, i) => ({
    label: names[i],
    data: vals.map((v, j) => ({ x: xs[j], y: v })),
    borderColor: seriesColors[i],
    backgroundColor: seriesColors[i],
    borderWidth: width,
    borderJoinStyle: "round",
    pointRadius: 0,
    tension: tension,
    order: seriesList.length - 1 - i, // last series on top, like Excel
  }));
}

// Shared line chart with a fixed plot area
function drawPanel(canvasId, datasets, p) {
  const ctx = document.getElementById(canvasId).getContext("2d");
  const tickFont = { family: SERIF, size: p.tickSize };
  return new Chart(ctx, {
    type: "line",
    data: { datasets: datasets },
    options: {
      responsive: false,
      animation: false,
      devicePixelRatio: 1,
      layout: {
        autoPadding: false,
        padding: { left: 0, top: p.padTop, right: p.padRight, bottom: 0 },
      },
      plugins: { legend: { display: false }, tooltip: { enabled: false } },
      scales: {
        x: {
          type: "linear",
          min: p.xMin,
          max: p.xMax,
          afterFit: (s) => { s.height = p.xHeight; },
          afterBuildTicks: (s) => { s.ticks = p.xTicks.map((v) => ({ value: v })); },
          border: { color: p.axisColor, width: 1.5 },
          grid: { drawOnChartArea: false, drawTicks: true, tickLength: p.tickLen, color: p.axisColor, tickColor: p.axisColor },
          ticks: { padding: p.xTickPad, font: tickFont, color: "#1a1a1a", maxRotation: 0, autoSkip: false, callback: (v) => String(v) },
          title: {
            display: true,
            text: p.xTitle,
            color: "#111",
            font: { family: SERIF, size: p.xTitleSize, weight: p.titleWeight },
            padding: { top: 0, bottom: p.xTitlePad },
          },
        },
        y: {
          min: p.yMin,
          max: p.yMax,
          afterFit: (s) => { s.width = p.yWidth; },
          afterBuildTicks: (s) => { s.ticks = p.yTicks.map((v) => ({ value: v })); },
          border: { color: p.axisColor, width: 1.5 },
          grid: { drawOnChartArea: false, drawTicks: true, tickLength: p.tickLen, color: p.axisColor, tickColor: p.axisColor },
          ticks: { padding: p.yTickPad, font: tickFont, color: "#1a1a1a", autoSkip: false, callback: (v) => String(v) },
          title: {
            display: !!p.yTitle,
            text: p.yTitle || "",
            color: "#111",
            font: { family: SERIF, size: p.yTitleSize, weight: p.titleWeight },
            padding: { top: p.yTitlePad, bottom: 0 },
          },
        },
      },
    },
  });
}

// Panel a: RMSD
function initRmsdChart() {
  const ds = buildDatasets(timeA, [rmsdWild, rmsdProteolytic, rmsdAutolytic, rmsdAutoProteolytic], seriesNames, 4, 0);
  drawPanel("rmsdChart", ds, {
    padTop: 19, padRight: 30, xHeight: 98, yWidth: 115,
    xMin: 0, xMax: 100, xTicks: timeTicks, yMin: 0, yMax: 0.5, yTicks: rmsdTicks,
    axisColor: "#3f3f3f", tickLen: 6, tickSize: 20, xTickPad: 12, yTickPad: 14,
    xTitle: "Time (ns)", xTitleSize: 23, xTitlePad: 14,
    yTitle: "RMSD  (nm)", yTitleSize: 22, yTitlePad: 12, titleWeight: "bold",
  });
}

// Panel b: RMSF
function initRmsfChart() {
  const ds = buildDatasets(residues, [rmsfWild, rmsfProteolytic, rmsfAutolytic, rmsfAutoProteolytic], seriesNames, 4.5, 0.3);
  drawPanel("rmsfChart", ds, {
    padTop: 10, padRight: 26, xHeight: 132, yWidth: 106,
    xMin: 0, xMax: 250, xTicks: residueTicks, yMin: 0, yMax: 0.7, yTicks: rmsfTicks,
    axisColor: "#8c8c8c", tickLen: 5, tickSize: 19, xTickPad: 7, yTickPad: 14,
    xTitle: "Number  of Residues", xTitleSize: 20, xTitlePad: 72,
    yTitle: "RMSF (nm)", yTitleSize: 20, yTitlePad: 14, titleWeight: "bold",
  });
}

// Panel c: three distance plots
function initDistanceCharts() {
  const common = {
    xMin: 0, xMax: 100, xTicks: timeTicks, yMin: 0, yMax: 2.5, yTicks: distTicks,
    axisColor: "#8c8c8c", tickLen: 5, tickSize: 22, xTickPad: 11, yTickPad: 17,
    xTitle: "Time (ns)", xTitleSize: 23, yTitleSize: 23, titleWeight: "normal",
  };
  drawPanel("his61Chart",
    buildDatasets(timeC, [his61Wild, his61Proteolytic, his61Autolytic, his61AutoProteolytic], seriesNamesC, 3.2, 0),
    { ...common, padTop: 15, padRight: 40, xHeight: 86, yWidth: 105, xTitlePad: 17, yTitle: "Distance (nm)", yTitlePad: 7 });
  drawPanel("asp104Chart",
    buildDatasets(timeC, [asp104Wild, asp104Proteolytic, asp104Autolytic, asp104AutoProteolytic], seriesNamesC, 3.2, 0),
    { ...common, padTop: 16, padRight: 30, xHeight: 84, yWidth: 73, xTitlePad: 15, yTitle: null, yTitlePad: 0 });
  drawPanel("ser199Chart",
    buildDatasets(timeC, [ser199Wild, ser199Proteolytic, ser199Autolytic, ser199AutoProteolytic], seriesNamesC, 3.2, 0),
    { ...common, padTop: 15, padRight: 40, xHeight: 74, yWidth: 108, xTitlePad: 12, yTitle: "Distance (nm)", yTitlePad: 5 });
}

// Legends (html, placed like the original)
function legendItem(parent, name, color, x, y, lineW, font) {
  const item = document.createElement("div");
  item.className = "legend-item";
  item.style.left = x + "px";
  item.style.top = y + "px";
  item.style.font = font;
  item.innerHTML = `<span class="swatch" style="width:${lineW}px;background:${color}"></span><span>${name}</span>`;
  parent.appendChild(item);
}

function buildLegends() {
  const a = document.getElementById("legendA");
  const rowsA = [316, 347, 378, 410];
  seriesNames.forEach((n, i) => legendItem(a, n, seriesColors[i], 615, rowsA[i], 48, `23px ${SERIF}`));

  const b = document.getElementById("legendB");
  const colsB = [1032, 1214, 1449, 1663];
  seriesNames.forEach((n, i) => legendItem(b, n, seriesColors[i], colsB[i], 541, 42, `21px ${SERIF}`));

  const c = document.getElementById("legendC");
  const colsC = [644, 757, 944, 1102];
  seriesNamesC.forEach((n, i) => legendItem(c, n, seriesColors[i], colsC[i], 1512, 40, `bold 28px ${SERIF}`));
}
</script>
</body>
</html>
